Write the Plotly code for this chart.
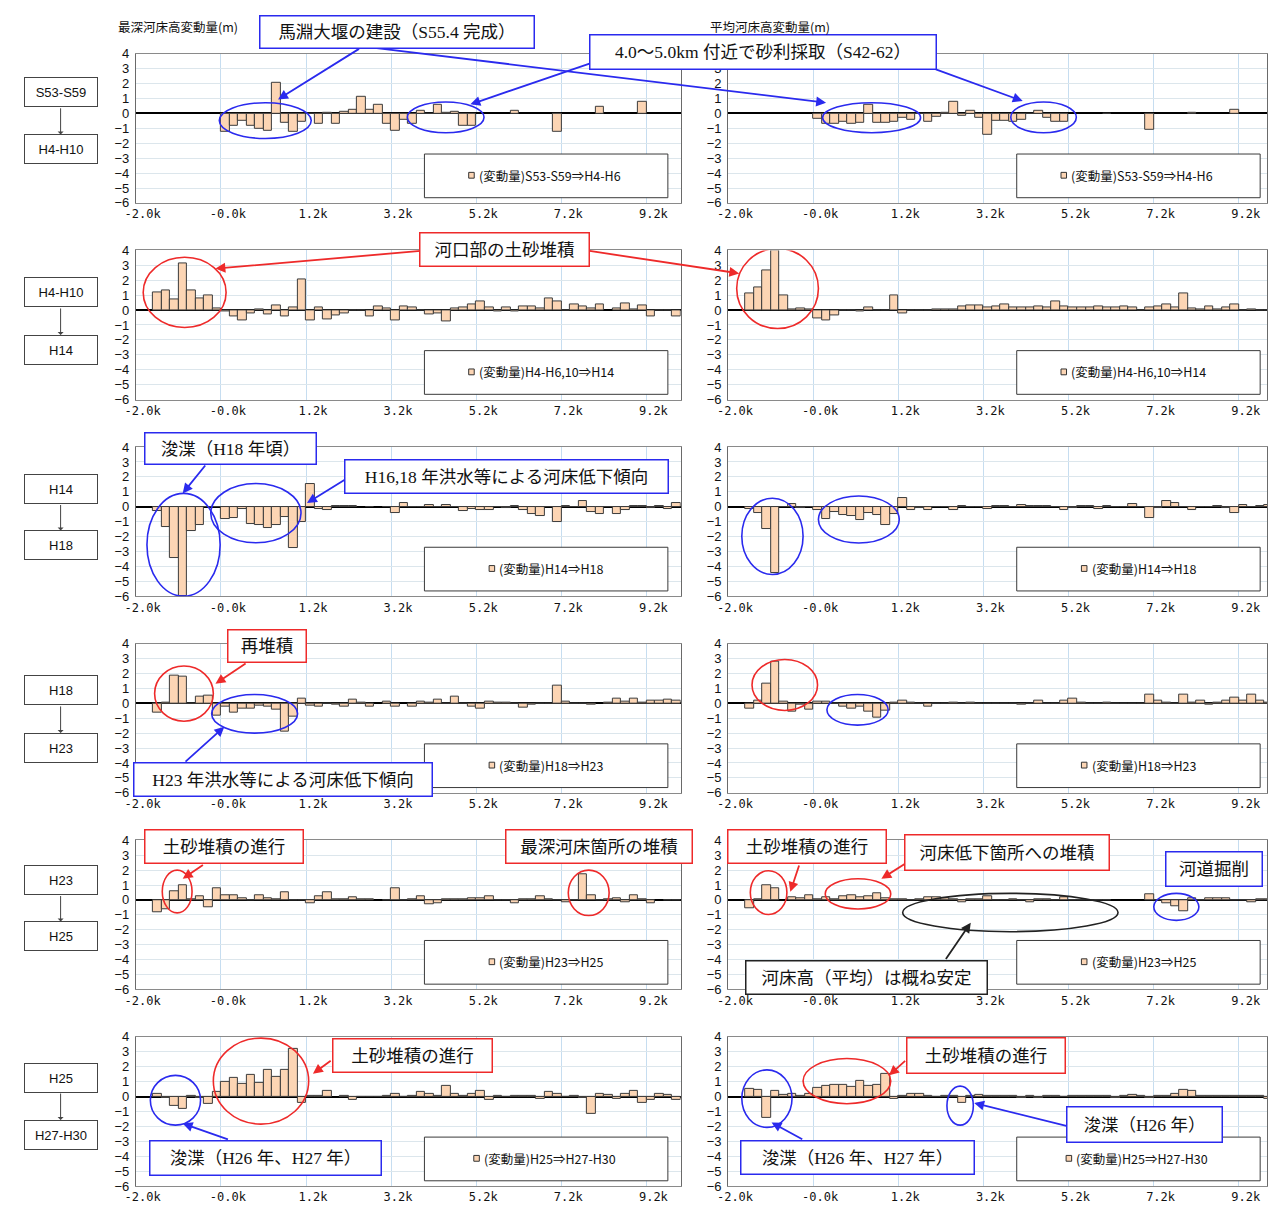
import plotly.graph_objects as go

W, H = 1276, 1218          # page size of the reference
OFF = 8                    # default body margin of the page
FW, FH = W - 2 * OFF, H - 2 * OFF

# ---------------- data ----------------
tick_labels = ["-2.0k", "-0.0k", "1.2k", "3.2k", "5.2k", "7.2k", "9.2k"]
n_sections = 64

period_from = ["S53-S59", "H4-H10", "H14", "H18", "H23", "H25"]
period_to = ["H4-H10", "H14", "H18", "H23", "H25", "H27-H30"]
legend_labels = ["(変動量)S53-S59⇒H4-H6", "(変動量)H4-H6,10⇒H14", "(変動量)H14⇒H18",
                 "(変動量)H18⇒H23", "(変動量)H23⇒H25", "(変動量)H25⇒H27-H30"]

# 最深河床高変動量 (m)
deep_1 = [None, None, None, None, None, None, None, None, None, None,
          -1.25, -0.85, -0.5, -0.8, -1.05, -1.15, 2.05, -0.6, -1.25, -0.55,
          -0.05, -0.7, 0.05, -0.7, 0.1, 0.25, 1.15, 0.25, 0.55, -0.7,
          -1.15, -0.45, -0.7, 0.15, -0.05, 0.6, 0.05, 0.1, -0.8, -0.85,
          None, None, None, None, 0.2, None, None, None, None, -1.25,
          None, None, None, None, 0.45, None, None, None, None, 0.75,
          None, None, None, None]
deep_2 = [None, None, 1.2, 1.3, 0.7, 3.15, 1.3, 0.75, 0.95, 0.1,
          -0.1, -0.4, -0.7, -0.2, 0.05, -0.3, 0.3, -0.45, 0.2, 2.05,
          -0.7, 0.2, -0.6, -0.35, -0.25, -0.05, -0.05, -0.45, 0.25, 0.1,
          -0.7, 0.25, 0.2, -0.05, -0.3, -0.2, -0.75, 0.1, 0.2, 0.4,
          0.6, 0.15, -0.1, 0.2, -0.1, 0.25, 0.25, 0.1, 0.75, 0.55,
          -0.05, 0.35, 0.25, 0.1, 0.4, None, 0.1, 0.45, 0.05, 0.3,
          -0.4, -0.05, -0.05, -0.4]
deep_3 = [None, None, -0.3, -1.35, -3.45, -6.0, -1.6, -1.25, -0.05, -0.05,
          -0.85, -0.75, -0.15, -1.15, -1.2, -1.45, -1.2, -0.7, -2.75, -1.0,
          1.5, -0.15, -0.25, 0.05, 0.05, 0.05, None, -0.05, None, -0.05,
          -0.45, 0.25, -0.05, -0.05, 0.1, -0.05, 0.1, -0.05, -0.3, -0.15,
          -0.25, -0.25, -0.05, -0.1, 0.05, -0.2, -0.5, -0.65, -0.05, -1.0,
          0.05, -0.05, 0.4, -0.35, -0.5, -0.05, -0.5, -0.2, 0.05, 0.05,
          -0.1, 0.05, -0.15, 0.25]
deep_4 = [None, None, -0.65, 0.05, 1.85, 1.8, -0.05, 0.45, 0.5, -0.85,
          -0.2, -0.6, -0.35, -0.35, -0.15, -0.25, -0.45, -1.9, -0.9, 0.3,
          -0.15, -0.2, -0.05, -0.1, -0.2, 0.25, 0.05, -0.25, None, 0.1,
          -0.25, None, -0.25, 0.1, 0.05, 0.25, -0.05, 0.45, -0.05, -0.2,
          -0.35, 0.1, 0.05, 0.05, -0.05, -0.3, -0.1, -0.05, -0.05, 1.2,
          0.1, -0.05, -0.05, -0.1, None, 0.05, 0.3, 0.1, 0.3, 0.05,
          0.2, 0.2, 0.25, 0.2]
deep_5 = [None, None, -0.85, -0.6, 0.55, 0.95, 0.05, 0.25, -0.5, 0.8,
          0.3, 0.3, 0.1, -0.05, 0.3, 0.1, 0.05, 0.5, -0.05, -0.05,
          -0.25, 0.25, 0.5, 0.05, 0.05, 0.15, 0.05, 0.05, None, -0.05,
          0.75, -0.05, 0.05, 0.25, -0.3, -0.25, 0.05, 0.05, 0.05, 0.1,
          0.1, 0.25, -0.05, -0.05, -0.25, 0.05, 0.05, 0.25, 0.05, -0.05,
          -0.15, -0.05, 1.7, 0.3, -0.05, 0.05, 0.1, -0.15, 0.3, 0.05,
          -0.25, None, -0.05, -0.05]
deep_6 = [None, None, 0.15, -0.1, -0.65, -0.8, 0.05, -0.1, -0.5, 0.3,
          1.0, 1.25, 0.85, 1.45, 0.9, 1.8, 1.3, 1.8, 3.2, -0.45,
          0.05, 0.05, 0.35, None, 0.05, -0.2, -0.05, -0.05, -0.05, 0.05,
          0.2, -0.05, 0.05, 0.3, 0.15, 0.05, 0.7, 0.2, 0.05, 0.15,
          0.35, -0.2, 0.05, -0.05, 0.05, 0.05, 0.05, -0.15, 0.3, 0.15,
          -0.05, 0.05, -0.1, -1.15, 0.15, 0.1, -0.15, 0.2, 0.4, -0.4,
          -0.2, 0.2, 0.1, -0.2]

# 平均河床高変動量 (m)
mean_1 = [None, None, None, None, None, None, None, None, None, None,
          -0.35, -0.7, -0.7, -0.55, -0.7, -0.65, 0.55, -0.6, -0.65, -0.55,
          -0.3, -0.4, -0.05, -0.55, -0.2, 0.05, 0.8, -0.15, 0.2, -0.3,
          -1.4, -0.5, -0.5, -0.55, -0.45, -0.05, 0.2, -0.3, -0.55, -0.55,
          None, None, None, None, -0.05, None, None, None, None, -1.1,
          None, None, None, None, 0.05, None, None, None, None, 0.25,
          None, None, None, None]
mean_2 = [None, None, 1.15, 1.5, 2.65, 4.0, 1.0, 0.05, 0.1, 0.05,
          -0.55, -0.7, -0.35, -0.05, -0.05, -0.1, 0.2, -0.05, -0.05, 0.95,
          -0.25, -0.05, -0.05, -0.05, 0.05, 0.05, 0.05, 0.25, 0.3, 0.3,
          0.2, 0.25, 0.4, 0.2, 0.2, 0.15, 0.25, 0.15, 0.6, 0.25,
          0.2, 0.2, 0.2, 0.25, 0.2, 0.2, 0.25, 0.15, -0.05, 0.2,
          0.25, 0.35, 0.2, 1.1, 0.1, 0.05, 0.25, 0.05, 0.15, 0.4,
          -0.05, 0.05, -0.05, -0.05]
mean_3 = [None, None, -0.15, -0.45, -1.5, -4.45, -0.05, 0.15, -0.1, -0.05,
          -0.25, -0.8, -0.35, -0.55, -0.65, -0.9, -0.45, -0.55, -1.25, -0.5,
          0.6, -0.25, -0.1, -0.2, -0.05, -0.05, -0.2, 0.05, -0.05, -0.05,
          -0.15, 0.05, 0.05, -0.05, 0.1, 0.05, 0.05, 0.05, -0.05, -0.2,
          -0.1, 0.05, 0.05, -0.15, 0.05, -0.05, -0.05, 0.2, -0.05, -0.75,
          -0.1, 0.4, 0.25, -0.05, -0.2, -0.05, -0.05, 0.05, -0.1, -0.4,
          0.1, -0.05, 0.05, 0.1]
mean_4 = [None, None, -0.35, 0.15, 1.35, 2.8, 0.1, -0.55, -0.1, -0.4,
          0.1, 0.1, -0.05, -0.2, -0.35, -0.2, -0.55, -0.95, -0.5, 0.05,
          0.15, 0.05, -0.05, -0.2, -0.05, -0.05, 0.05, -0.05, 0.05, -0.05,
          -0.05, -0.05, -0.05, -0.05, -0.1, -0.05, 0.15, -0.05, -0.05, 0.2,
          0.3, 0.05, -0.05, -0.05, 0.05, -0.05, -0.05, -0.05, -0.05, 0.55,
          0.2, 0.05, -0.05, 0.55, 0.05, 0.15, -0.1, 0.05, 0.15, 0.4,
          0.2, 0.55, 0.15, 0.05]
mean_5 = [None, None, -0.55, 0.05, 1.0, 0.8, None, 0.15, 0.1, 0.3,
          0.05, 0.15, 0.05, 0.25, 0.3, 0.2, 0.25, 0.45, 0.1, 0.05,
          0.05, -0.05, 0.05, 0.2, 0.15, 0.1, 0.05, -0.15, 0.05, 0.05,
          0.25, -0.05, -0.05, 0.05, -0.05, -0.15, 0.05, 0.05, -0.05, 0.15,
          -0.05, -0.05, -0.05, -0.05, -0.05, None, None, None, None, 0.35,
          -0.05, -0.25, -0.4, -0.75, 0.1, -0.05, 0.1, 0.1, 0.1, -0.05,
          -0.05, -0.15, 0.05, 0.05]
mean_6 = [None, None, 0.5, 0.45, -1.45, 0.35, 0.1, 0.2, 0.05, 0.15,
          0.55, 0.7, 0.75, 0.75, 0.65, 1.05, 0.7, 0.75, 1.5, -0.15,
          0.05, 0.15, 0.2, 0.05, -0.05, 0.05, 0.05, -0.45, 0.05, 0.1,
          0.05, 0.05, 0.05, 0.05, -0.1, 0.05, -0.1, 0.05, 0.05, -0.05,
          0.05, 0.05, 0.05, 0.05, 0.05, -0.1, 0.05, 0.1, 0.05, -0.1,
          0.05, 0.05, 0.2, 0.45, 0.4, 0.05, 0.05, 0.05, 0.05, 0.05,
          0.05, 0.05, 0.05, -0.15]

deep_series = [deep_1, deep_2, deep_3, deep_4, deep_5, deep_6]
mean_series = [mean_1, mean_2, mean_3, mean_4, mean_5, mean_6]

# ---------------- styles / layout geometry (reference pixels) ----------------
FILL = "#FCD5B4"
EDGE = "#3b3b3b"
BLUE = "#2A2AEE"
RED = "#EE2A2A"
BLACK = "#222222"
CJK = "Noto Sans CJK JP"
SERIF = "Liberation Serif, Noto Sans CJK JP"

CATW = 550 / 64                      # pixel width of one section
col_left = [126, 724]
col_right = [676, 1268]
zero_px = [107.7 + 199.1 * r for r in range(6)]
UNIT = 15.1                          # pixels per metre
legend_sq = [39.1, 39.1, 41.5, 41.5, 41.5, 39.7]


def px2paper(px, py):
    return (px - OFF) / FW, 1 - (py - OFF) / FH


def data2px(r, c, cat, val):
    return col_left[c] + cat * CATW, zero_px[r] - val * UNIT


def clamp(v):
    return max(0.0, min(1.0, v))


fig = go.Figure()
layout = {}
shapes = []
annotations = []

xpos = [i + 0.5 for i in range(n_sections)]


def axid(k):
    return "" if k == 1 else str(k)


for r in range(6):
    for c in range(2):
        k = r * 2 + c + 1
        vals = deep_series[r] if c == 0 else mean_series[r]
        fig.add_trace(go.Bar(
            x=xpos, y=vals, width=1.0,
            xaxis="x" + axid(k), yaxis="y" + axid(k),
            marker=dict(color=FILL, line=dict(color=EDGE, width=1)),
            showlegend=False, hoverinfo="skip"))
        dx0, _ = px2paper(col_left[c], 0)
        dx1, _ = px2paper(col_right[c], 0)
        _, dy1 = px2paper(0, zero_px[r] - 4 * UNIT)
        _, dy0 = px2paper(0, zero_px[r] + 6 * UNIT)
        xmax = (col_right[c] - col_left[c]) / CATW
        layout["xaxis" + axid(k)] = dict(
            domain=[clamp(dx0), clamp(dx1)], range=[0, xmax], anchor="y" + axid(k),
            tickmode="array", tickvals=[10 * j + 0.8 for j in range(len(tick_labels))],
            ticktext=tick_labels, showgrid=False, zeroline=False, ticks="",
            showline=True, mirror=True, linecolor="#8a8a8a", linewidth=1,
            tickfont=dict(family="DejaVu Sans Mono", size=12, color="#111"),
            minor=dict(tickmode="array", tickvals=[10 * j for j in range(1, 7)],
                       showgrid=True, gridcolor="#C6DDF0", gridwidth=1, ticks=""),
            fixedrange=True)
        layout["yaxis" + axid(k)] = dict(
            domain=[clamp(dy0), clamp(dy1)], range=[-6, 4],
            anchor="x" + axid(k), tick0=0, dtick=1, showgrid=True,
            gridcolor="#DCE6EC", gridwidth=1, zeroline=True, zerolinecolor="#000",
            zerolinewidth=1.5, showline=True, mirror=True, linecolor="#6a6a6a",
            linewidth=1, ticks="", ticklabelstandoff=3,
            tickfont=dict(family="Liberation Sans", size=13, color="#111"),
            fixedrange=True)
        xr, yr = "x" + axid(k), "y" + axid(k)
        # legend box
        shapes.append(dict(type="rect", xref=xr, yref=yr, x0=33.9, x1=62.5,
                           y0=-5.65, y1=-2.72, line=dict(color="#3a3a3a", width=1),
                           fillcolor="white", layer="above"))
        sq = legend_sq[r]
        shapes.append(dict(type="rect", xref=xr, yref=yr, x0=sq, x1=sq + 0.65,
                           y0=-4.34, y1=-3.95, line=dict(color="#333", width=1),
                           fillcolor=FILL, layer="above"))
        annotations.append(dict(xref=xr, yref=yr, x=sq + 0.95, y=-4.14,
                                xanchor="left", yanchor="middle", showarrow=False,
                                text=legend_labels[r],
                                font=dict(family=CJK, size=12.5, color="#111")))

# ellipses: (row, col, color, x0, x1, y0, y1) in data units
ellipses = [
    (0, 0, BLUE, 9.8, 20.6, -1.68, 0.72), (0, 0, BLUE, 31.9, 40.9, -1.29, 0.77),
    (0, 1, BLUE, 11.1, 22.6, -1.29, 0.72), (0, 1, BLUE, 33.2, 40.9, -1.29, 0.77),
    (1, 0, RED, 0.86, 10.6, -1.17, 3.54),
    (1, 1, RED, 1.0, 10.6, -1.24, 4.13),
    (2, 0, BLUE, 1.3, 9.9, -6.0, 0.89), (2, 0, BLUE, 8.8, 19.4, -2.42, 1.55),
    (2, 1, BLUE, 1.6, 8.8, -4.55, 0.57), (2, 1, BLUE, 10.6, 20.1, -2.44, 0.72),
    (3, 0, RED, 2.2, 9.1, -1.2, 2.5), (3, 0, BLUE, 8.9, 19.0, -2.0, 0.59),
    (3, 1, RED, 2.8, 10.5, -0.48, 2.94), (3, 1, BLUE, 11.6, 18.8, -1.46, 0.59),
    (4, 0, RED, 3.1, 6.6, -0.87, 2.0), (4, 0, RED, 50.8, 55.6, -1.05, 2.0),
    (4, 1, RED, 2.6, 6.9, -0.98, 1.96), (4, 1, RED, 11.4, 19.1, -0.61, 1.42),
    (4, 1, BLACK, 20.5, 45.8, -2.13, 0.44), (4, 1, BLUE, 50.0, 55.3, -1.37, 0.44),
    (5, 0, BLUE, 1.7, 7.6, -1.92, 1.42), (5, 0, RED, 9.1, 20.3, -1.85, 3.92),
    (5, 1, BLUE, 1.6, 7.5, -2.07, 1.79), (5, 1, RED, 8.8, 19.1, -0.48, 2.55),
    (5, 1, BLUE, 25.7, 28.8, -1.92, 0.7),
]
for r, c, col, ex0, ex1, ey0, ey1 in ellipses:
    k = r * 2 + c + 1
    shapes.append(dict(type="circle", xref="x" + axid(k), yref="y" + axid(k),
                       x0=ex0, x1=ex1, y0=ey0, y1=ey1,
                       line=dict(color=col, width=1.6), layer="above"))

# callout boxes (pixel boxes in the reference)
callouts = [
    ("馬淵大堰の建設（S55.4 完成）", 252, 8, 528, 42, BLUE),
    ("4.0〜5.0km 付近で砂利採取（S42-62）", 585, 27, 933, 63, BLUE),
    ("河口部の土砂堆積", 413, 228, 584, 263, RED),
    ("浚渫（H18 年頃）", 135, 430, 308, 463, BLUE),
    ("H16,18 年洪水等による河床低下傾向", 338, 458, 663, 493, BLUE),
    ("再堆積", 218, 630, 298, 664, RED),
    ("H23 年洪水等による河床低下傾向", 125, 765, 425, 800, BLUE),
    ("土砂堆積の進行", 135, 833, 295, 868, RED),
    ("最深河床箇所の堆積", 500, 833, 688, 868, RED),
    ("土砂堆積の進行", 724, 833, 884, 868, RED),
    ("河床低下箇所への堆積", 902, 838, 1108, 875, RED),
    ("河床高（平均）は概ね安定", 742, 965, 985, 1000, BLACK),
    ("河道掘削", 1165, 855, 1263, 891, BLUE),
    ("土砂堆積の進行", 325, 1044, 486, 1079, RED),
    ("浚渫（H26 年、H27 年）", 140, 1147, 373, 1183, BLUE),
    ("土砂堆積の進行", 904, 1043, 1064, 1080, RED),
    ("浚渫（H26 年）", 1066, 1113, 1223, 1150, BLUE),
    ("浚渫（H26 年、H27 年）", 737, 1147, 972, 1182, BLUE),
]

# arrows: tail in reference pixels -> tip at (row, col, section, value)
arrows = [
    (352, 42, 0, 0, 16.7, 0.94, BLUE), (372, 42, 0, 1, 11.5, 0.72, BLUE),
    (588, 56, 0, 0, 39.3, 0.61, BLUE), (933, 63, 0, 1, 34.6, 0.83, BLUE),
    (413, 247, 1, 0, 9.35, 2.78, RED), (584, 247, 1, 1, 1.3, 2.46, RED),
    (197, 463, 2, 0, 5.5, 0.89, BLUE), (338, 478, 2, 0, 20.1, 0.24, BLUE),
    (238, 664, 3, 0, 9.35, 1.31, RED), (175, 765, 3, 0, 10.4, -1.57, BLUE),
    (195, 868, 4, 0, 5.5, 1.42, RED), (796, 868, 4, 1, 7.3, 0.54, RED),
    (905, 866, 4, 1, 18.0, 1.42, RED), (943, 965, 4, 1, 28.5, -1.53, BLACK),
    (324, 1066, 5, 0, 20.8, 1.53, RED), (220, 1147, 5, 0, 5.5, -1.81, BLUE),
    (904, 1066, 5, 1, 18.9, 1.42, RED), (1066, 1133, 5, 1, 28.9, -0.44, BLUE),
    (800, 1147, 5, 1, 5.1, -1.74, BLUE),
]
for tx, ty, r, c, cat, val, col in arrows:
    hx, hy = data2px(r, c, cat, val)
    x, y = px2paper(hx, hy)
    annotations.append(dict(xref="paper", yref="paper", x=x, y=y, text="",
                            showarrow=True, axref="pixel", ayref="pixel",
                            ax=tx - hx, ay=ty - hy, arrowhead=2, arrowsize=1.1,
                            arrowwidth=1.8, arrowcolor=col, standoff=0))

for text, bx0, by0, bx1, by1, col in callouts:
    x, y = px2paper((bx0 + bx1) / 2, (by0 + by1) / 2)
    annotations.append(dict(xref="paper", yref="paper", x=x, y=y, text=text,
                            showarrow=False, xanchor="center", yanchor="middle",
                            width=bx1 - bx0 - 3, height=by1 - by0 - 3, borderpad=0,
                            bordercolor=col, borderwidth=1.5, bgcolor="white",
                            align="center", valign="middle",
                            font=dict(family=SERIF, size=17.5, color="#111")))

# period labels on the left
top_c = [86.3, 289, 488, 692, 884, 1084]
bot_c = [144, 347, 545, 750, 941, 1142]
for r in range(6):
    for txt, cy in ((period_from[r], top_c[r]), (period_to[r], bot_c[r])):
        x, y = px2paper(50, cy)
        annotations.append(dict(xref="paper", yref="paper", x=x, y=y, text=txt,
                                xanchor="center", yanchor="middle",
                                showarrow=False, width=72, height=28, borderpad=0,
                                bordercolor="#444", borderwidth=1, bgcolor="white",
                                font=dict(family="Liberation Sans", size=13, color="#111")))
    x, y = px2paper(50, bot_c[r] - 15)
    annotations.append(dict(xref="paper", yref="paper", x=x, y=y, text="",
                            showarrow=True, axref="pixel", ayref="pixel",
                            ax=0, ay=-(bot_c[r] - top_c[r] - 30), arrowhead=1,
                            arrowsize=1, arrowwidth=1, arrowcolor="#444", standoff=0))

# column titles
for txt, px in (("最深河床高変動量(m)", 106), ("平均河床高変動量(m)", 704)):
    x, y = px2paper(px, 20)
    annotations.append(dict(xref="paper", yref="paper", x=x, y=y, text=txt,
                            xanchor="left", yanchor="middle", showarrow=False,
                            font=dict(family=CJK, size=12.5, color="#111")))

fig.update_layout(
    width=FW, height=FH, margin=dict(l=0, r=0, t=0, b=0),
    paper_bgcolor="white", plot_bgcolor="white", bargap=0,
    shapes=shapes, annotations=annotations, **layout)

fig.write_html("out.html", config={"displayModeBar": False})
